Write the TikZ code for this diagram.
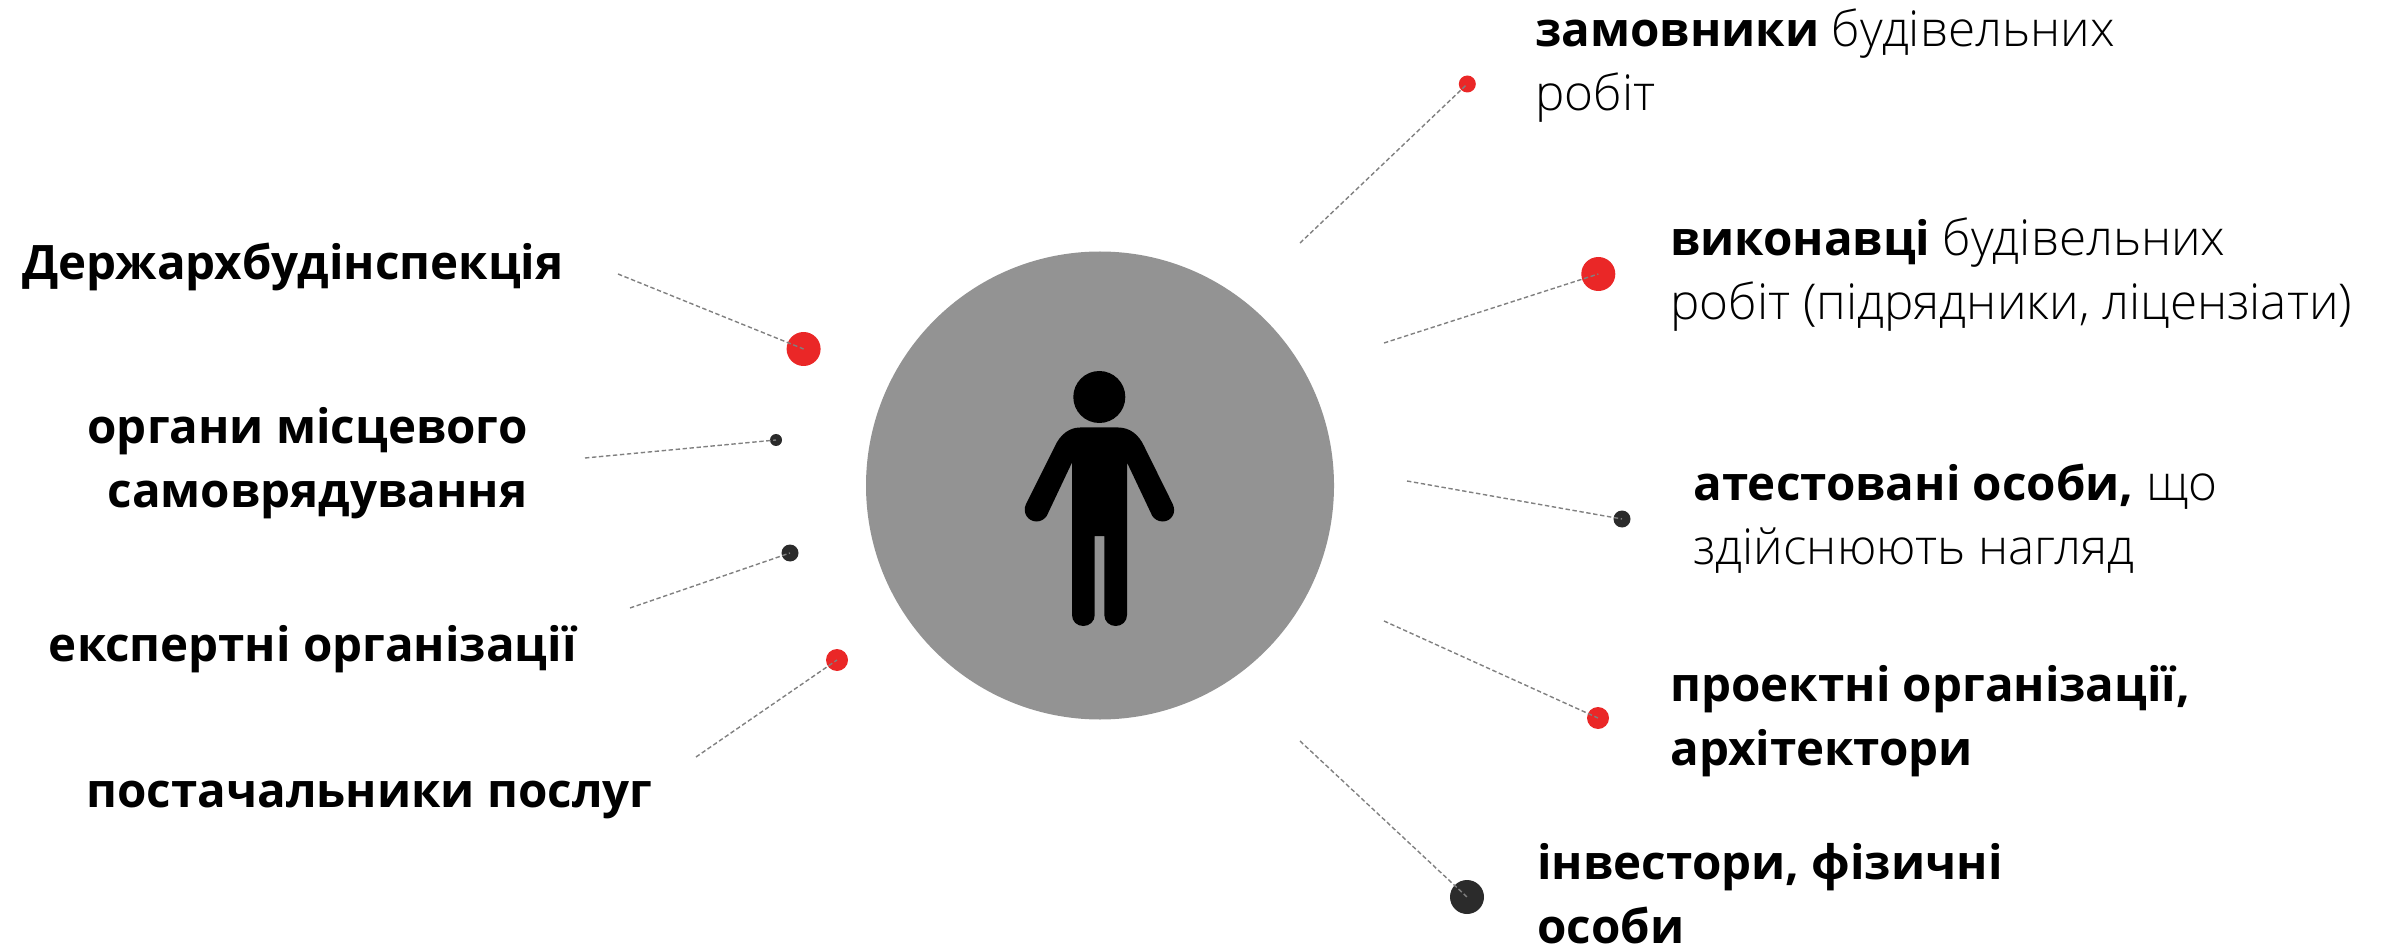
\documentclass[tikz,border=0pt]{standalone}
\usepackage{fontspec}
\setmainfont{Open Sans}
\newfontfamily\lightfont{Open Sans Light}
\usetikzlibrary{calc, positioning}
\definecolor{dotred}{HTML}{EA2727}
\definecolor{dotdark}{HTML}{2B2B2B}
\definecolor{discgray}{HTML}{939393}
\tikzstyle{disc}=[circle,fill=discgray,minimum size=234pt,inner sep=0pt]
\tikzstyle{head}=[circle,fill=black,minimum size=26pt,inner sep=0pt]
\tikzstyle{dot}=[circle,inner sep=0pt]
\tikzstyle{leader}=[draw=black!50,line width=0.7pt,dash pattern=on 2.2pt off 1.3pt]
\tikzstyle{annot}=[inner sep=0pt,font=\fontsize{23.75}{32}\selectfont\bfseries]
\tikzstyle{annot left}=[annot,anchor=east,align=right]
\tikzstyle{annot right}=[annot,anchor=west,align=left]
\newcommand{\thin}[1]{{\mdseries\lightfont\fontsize{24.7}{32}\selectfont #1}}
\begin{document}
\begin{tikzpicture}[x=0.5pt,y=-0.5pt]
\useasboundingbox (0,0) rectangle (2382,946);

			% Draw the central disc and the person on it
			\node[disc] (C) at (1100,485.5) {};
			\node[head] (P) at (1099.3,397) {};
			\fill[black] (1080,427.5) -- (1118.3,427.5)
			.. controls (1130,427.5) and (1139,435) .. (1144,446)
			-- (1172.7,504) .. controls (1177,513) and (1171,521.5) .. (1162.7,521.5)
			.. controls (1158,521.5) and (1154.5,519) .. (1152.3,516)
			-- (1127,462.5) -- (1127,615)
			.. controls (1127,621.5) and (1122,626) .. (1115.7,626)
			.. controls (1109.5,626) and (1104.3,621.5) .. (1104.3,615)
			-- (1104.3,536) -- (1094.7,536) -- (1094.7,615)
			.. controls (1094.7,621.5) and (1089.5,626) .. (1083.3,626)
			.. controls (1077,626) and (1072,621.5) .. (1072,615)
			-- (1072,462.5) -- (1046.7,516)
			.. controls (1044.5,519) and (1041,521.5) .. (1036.7,521.5)
			.. controls (1028,521.5) and (1022,513) .. (1026,504)
			-- (1055,446) .. controls (1060,435) and (1069,427.5) .. (1080,427.5) -- cycle;

			% Draw the dots
			\foreach \name / \x / \y / \d / \col in {
				R-1/1467.3/84/17/dotred, R-2/1598.3/274/34/dotred, R-3/1622/519/17/dotdark,
				R-4/1598/718/22/dotred, R-5/1467/897/34/dotdark,
				L-1/803.6/349/34/dotred, L-2/776/440/12/dotdark, L-3/790/553/17/dotdark, L-4/837/660/22/dotred}
			\node[dot,fill=\col,minimum size=0.5*\d pt] (\name) at (\x,\y) {};

			% Free ends of the leaders
			\foreach \name / \x / \y in {
				R-1/1300/243, R-2/1384/343, R-3/1407/481, R-4/1384/621, R-5/1300/741,
				L-1/618/274, L-2/585/458, L-3/630/608, L-4/696/757}
			\coordinate (E-\name) at (\x,\y);

			% Connect every free end with its dot
			\foreach \name in {R-1,R-2,R-3,R-4,R-5,L-1,L-2,L-3,L-4}
			\draw[leader] (E-\name) -- (\name.center);

			% Annotate the dots on the right
			\node[annot right] (T-R-1) at (1535,66) {замовники \thin{будівельних}\\\thin{робіт}};
			\node[annot right] (T-R-2) at (1670,275) {виконавці \thin{будівельних}\\\thin{робіт (підрядники, ліцензіати)}};
			\node[annot right] (T-R-3) at (1693,519) {атестовані особи, \thin{що}\\\thin{здійснюють нагляд}};
			\node[annot right] (T-R-4) at (1670,721) {проектні організації,\\архітектори};
			\node[annot right] (T-R-5) at (1537,894) {інвестори, фізичні\\особи};

			% Annotate the dots on the left
			\node[annot left] (T-L-1) at (564,267) {Держархбудінспекція};
			\node[annot left] (T-L-2) at (528,463) {органи місцевого\\самоврядування};
			\node[annot left] (T-L-3) at (577,649) {експертні організації};
			\node[annot left] (T-L-4) at (653,800) {постачальники послуг};
\end{tikzpicture}
\end{document}
